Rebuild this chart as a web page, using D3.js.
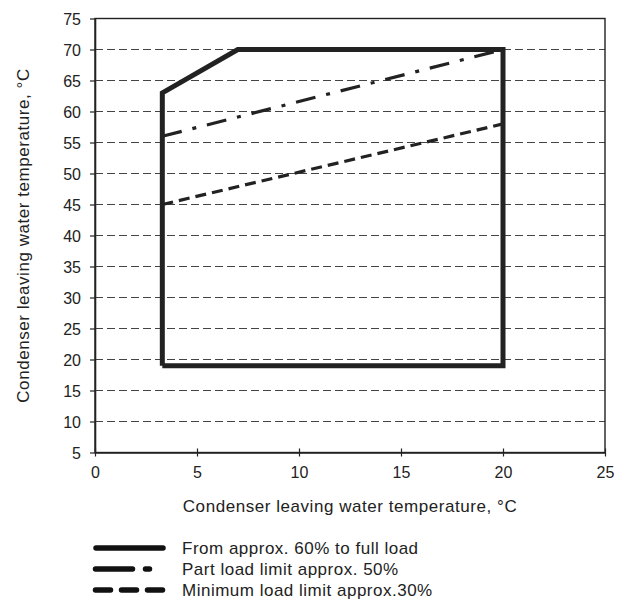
<!DOCTYPE html>
<html>
<head>
<meta charset="utf-8">
<script src="https://cdn.jsdelivr.net/npm/d3@7"></script>
<style>
  body { margin: 0; background: #fff; }
  text { font-family: "Liberation Sans", Arial, sans-serif; fill: #222; }
</style>
</head>
<body>
<div class="chart"></div>
<script>
// Operating envelope chart

// Data
var xTicks = [0, 5, 10, 15, 20, 25];
var yTicks = [5, 10, 15, 20, 25, 30, 35, 40, 45, 50, 55, 60, 65, 70, 75];

// Full load envelope (closed polygon)
var envelopeX = [3.3, 3.3, 7, 20, 20, 3.3];
var envelopeY = [19, 63, 70, 70, 19, 19];

// Part load limit approx. 50%
var partX = [3.3, 20];
var partY = [56, 70];

// Minimum load limit approx. 30%
var minX = [3.3, 20];
var minY = [45, 58];

var legendLabels = [
  "From approx. 60% to full load",
  "Part load limit approx. 50%",
  "Minimum load limit approx.30%"
];

var svgWidth = 628;
var svgHeight = 599;

var margin = { top: 18.5, left: 95, right: 23, bottom: 146.5 };
var width = svgWidth - margin.left - margin.right;
var height = svgHeight - margin.top - margin.bottom;

var svg = d3.select(".chart")
  .append("svg")
  .attr("width", svgWidth)
  .attr("height", svgHeight);

var chartGroup = svg.append("g")
  .attr("transform", `translate(${margin.left}, ${margin.top})`);

var xScale = d3.scaleLinear().domain([0, 25]).range([0, width]);
var yScale = d3.scaleLinear().domain([5, 75]).range([height, 0]);

// Dashed grid lines
chartGroup.selectAll(".grid")
  .data(yTicks.filter(d => d > 5 && d < 75))
  .enter()
  .append("line")
  .attr("x1", 0)
  .attr("x2", width)
  .attr("y1", d => yScale(d))
  .attr("y2", d => yScale(d))
  .attr("stroke", "#444")
  .attr("stroke-width", 1)
  .attr("stroke-dasharray", "8,4");

// Frame top & right
chartGroup.append("rect")
  .attr("x", 0).attr("y", 0)
  .attr("width", width).attr("height", height)
  .attr("fill", "none")
  .attr("stroke", "#222")
  .attr("stroke-width", 1.4);

// Axes
var bottomAxis = d3.axisBottom(xScale).tickValues(xTicks).tickSize(5).tickSizeOuter(0);
var leftAxis = d3.axisLeft(yScale).tickValues(yTicks).tickSize(5).tickSizeOuter(0);

var xAxis = chartGroup.append("g")
  .attr("transform", `translate(0, ${height})`)
  .call(bottomAxis);
xAxis.selectAll("text").attr("y", 25).attr("dy", 0);

var yAxis = chartGroup.append("g").call(leftAxis);
yAxis.selectAll("text").attr("x", -14).attr("dy", "0.36em");

[xAxis, yAxis].forEach(function(ax) {
  ax.attr("font-size", null).attr("font-family", null);
  ax.select(".domain").attr("stroke", "#222").attr("stroke-width", 1.6);
  ax.selectAll(".tick line").attr("stroke", "#222").attr("stroke-width", 1.2);
  ax.selectAll("text").attr("fill", "#222").style("font-size", "16px");
});
xAxis.selectAll(".tick line").attr("y1", -4).attr("y2", 4);
yAxis.selectAll(".tick line").attr("x1", -5).attr("x2", 0);

var line = d3.line()
  .x(d => xScale(d[0]))
  .y(d => yScale(d[1]));

// Minimum load line
chartGroup.append("path")
  .datum(d3.zip(minX, minY))
  .attr("d", line)
  .attr("fill", "none")
  .attr("stroke", "#222")
  .attr("stroke-width", 3.2)
  .attr("stroke-dasharray", "11,6");

// Part load line
chartGroup.append("path")
  .datum(d3.zip(partX, partY))
  .attr("d", line)
  .attr("fill", "none")
  .attr("stroke", "#222")
  .attr("stroke-width", 3.2)
  .attr("stroke-dasharray", "20,11,4,11");

// Envelope
chartGroup.append("path")
  .datum(d3.zip(envelopeX, envelopeY))
  .attr("d", line)
  .attr("fill", "none")
  .attr("stroke", "#222")
  .attr("stroke-width", 5)
  .attr("stroke-linejoin", "miter");

// Axis labels
svg.append("text")
  .attr("x", margin.left + width / 2)
  .attr("y", 512)
  .attr("text-anchor", "middle")
  .style("font-size", "17px")
  .style("letter-spacing", "0.55px")
  .text("Condenser leaving water temperature, °C");

svg.append("text")
  .attr("transform", `translate(29, ${margin.top + height / 2}) rotate(-90)`)
  .attr("text-anchor", "middle")
  .style("font-size", "17px")
  .style("letter-spacing", "0.55px")
  .text("Condenser leaving water temperature, °C");

// Legend
var legendSegs = [[96, 163, null], [95.5, 149.5, "37,13,4,20"], [95.5, 162.5, "15,11"]];
var legendGroup = svg.append("g").attr("transform", "translate(0, 548)");
legendLabels.forEach(function(label, i) {
  var row = legendGroup.append("g").attr("transform", `translate(0, ${i * 21})`);
  row.append("line")
    .attr("x1", legendSegs[i][0]).attr("x2", legendSegs[i][1])
    .attr("y1", 0).attr("y2", 0)
    .attr("stroke", "#111")
    .attr("stroke-width", 5.5)
    .attr("stroke-linecap", "round")
    .attr("stroke-dasharray", legendSegs[i][2]);
  row.append("text")
    .attr("x", 182)
    .attr("y", 0)
    .attr("dy", "0.35em")
    .style("font-size", "17px")
    .style("letter-spacing", "0.5px")
    .text(label);
});
</script>
</body>
</html>
